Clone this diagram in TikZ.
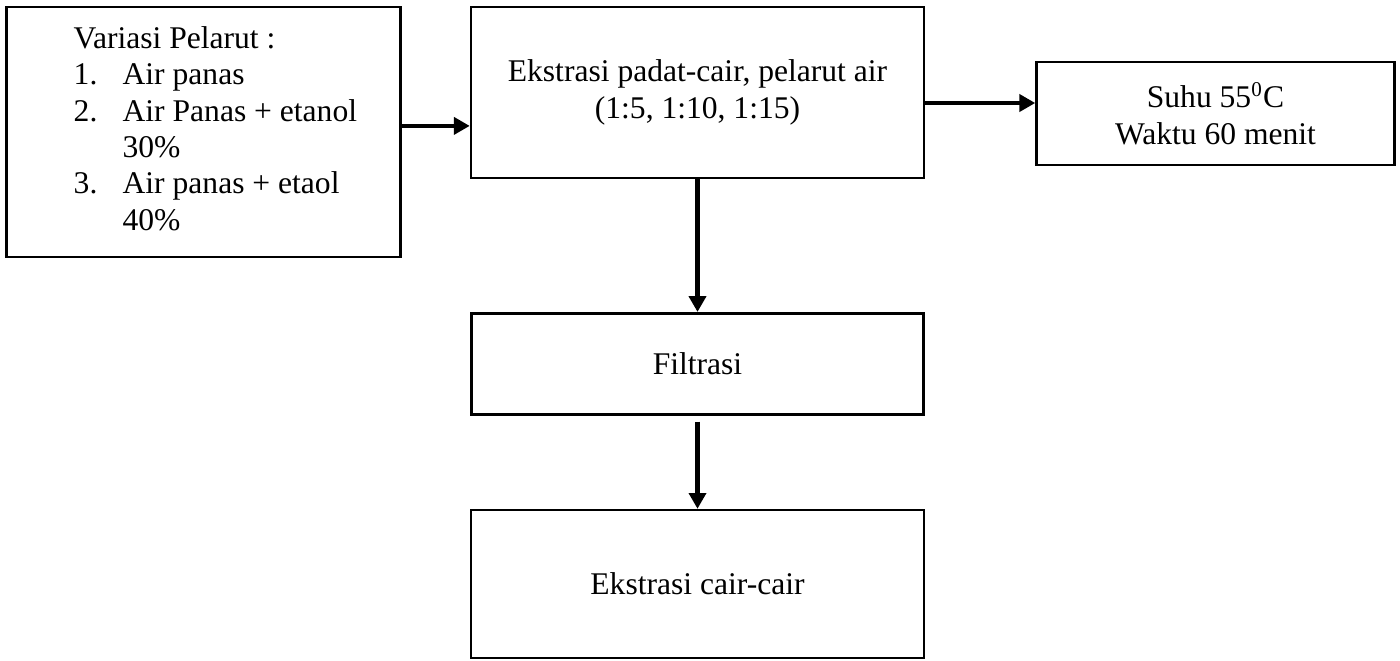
\documentclass[tikz,border=0pt]{standalone}
\usepackage{fontspec}
\setmainfont{Liberation Serif}
\usepackage{array}
\usetikzlibrary{arrows.meta, positioning}

\begin{document}
\begin{tikzpicture}[
      x=0.38pt, y=-0.38pt,
      box/.style={rectangle, draw=black, line width=1pt, align=center,
                  font=\fontsize{12}{13.8}\selectfont, inner sep=0pt},
      arr/.style={-{Triangle[length=6pt,width=6.4pt]}, line width=1.6pt},
      node distance=25.8pt
    ]
    \useasboundingbox (0,0) rectangle (1400,661);

    \node[box, minimum width=172.1pt, minimum height=65pt] (ekp) at (697.5,92.5)
         {Ekstrasi padat-cair, pelarut air\\(1:5, 1:10, 1:15)};
    \node[box, minimum width=149.7pt, minimum height=95pt,
          left=25.8pt of ekp, yshift=-15pt] (var) {%
      \begin{tabular}{@{\hspace{9pt}}p{18.6pt}@{}l@{}}
        \multicolumn{2}{@{\hspace{9pt}}l@{}}{Variasi Pelarut :}\\
        1. & Air panas\\
        2. & Air Panas + etanol\\
           & 30\%\\
        3. & Air panas + etaol\\
           & 40\%
      \end{tabular}};
    \node[box, minimum width=136pt, minimum height=39.1pt,
          right=41.8pt of ekp, yshift=-8pt] (suhu)
         {Suhu 55\textsuperscript{0}C\\Waktu 60 menit};
    \node[box, minimum width=171.8pt, minimum height=38.4pt,
          below=50.4pt of ekp] (fil) {Filtrasi};
    \node[box, minimum width=172.1pt, minimum height=56.2pt,
          below=35.4pt of fil] (cc) {Ekstrasi cair-cair};

    \draw[arr] ([yshift=2.3pt]var.east) -- ([yshift=2.3pt]var.east -| ekp.west);
    \draw[arr] ([yshift=-4pt]ekp.east) -- ([yshift=-4pt]ekp.east -| suhu.west);
    \draw[arr] (ekp.south) -- (fil.north);
    \draw[arr] ([yshift=-2.3pt]fil.south) -- (cc.north);
  \end{tikzpicture}
\end{document}
